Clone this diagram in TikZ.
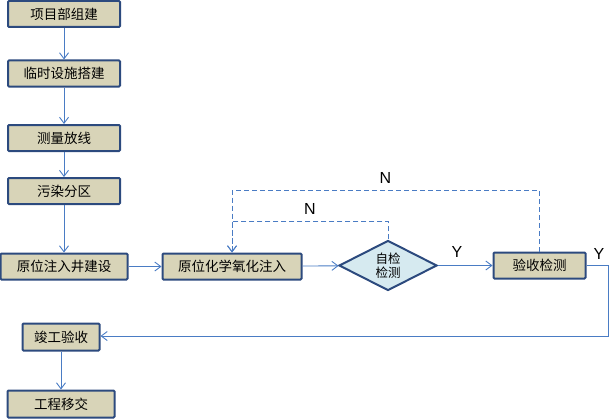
\documentclass[tikz,border=0pt]{standalone}
\usepackage{fontspec}
\setmainfont{Liberation Sans}
\newfontfamily\cjk{Noto Sans CJK SC}
\usepackage{xcolor}
\usetikzlibrary{shapes.geometric, arrows.meta, positioning}

\definecolor{boxfill}{HTML}{D8D4B8}
\definecolor{boxline}{HTML}{2C4A7E}
\definecolor{linkblue}{HTML}{4A7CC4}
\definecolor{checkfill}{HTML}{D6EAF0}

\begin{document}
\begin{tikzpicture}[
    x=1pt, y=-1pt,
    stepbox/.style={draw=boxline, line width=2pt, rectangle, rounded corners=1pt, fill=boxfill, minimum height=26pt, inner sep=0pt, font=\cjk\fontsize{13.5}{15}\selectfont},
    checkbox/.style={draw=boxline, line width=2pt, diamond, fill=checkfill, minimum width=98pt, minimum height=45pt, inner sep=0pt, align=center, font=\cjk\fontsize{12.5}{13.5}\selectfont},
    arrow/.style={-{Straight Barb[length=6pt, width=9pt]}, draw=linkblue, line width=0.9pt},
    back/.style={arrow, dash pattern=on 5pt off 3pt},
    yn/.style={font=\fontsize{16}{16}\selectfont}
]
\useasboundingbox (0,0) rectangle (610,420);

\node[stepbox, minimum width=112pt] (build) at (64,14) {项目部组建};
\node[stepbox, minimum width=112pt] (temp) at (64,73.5) {临时设施搭建};
\node[stepbox, minimum width=112pt] (survey) at (64,138) {测量放线};
\node[stepbox, minimum width=112pt] (zone) at (64,191) {污染分区};
\node[stepbox, minimum width=127pt] (well) at (64,266.5) {原位注入井建设};
\node[stepbox, minimum width=139pt] (inject) at (232,266.5) {原位化学氧化注入};
\node[checkbox] (check) at (388,265.5) {自检\\检测};
\node[stepbox, minimum width=92pt] (accept) at (539.5,265.5) {验收检测};
\node[stepbox, minimum width=77pt, minimum height=27pt] (final) at (61,337) {竣工验收};
\node[stepbox, minimum width=107pt, minimum height=27pt] (handover) at (61,404) {工程移交};

\coordinate (outerR) at (539,190);
\coordinate (outerL) at (232,190);
\coordinate (innerR) at (388,221);
\coordinate (innerL) at (232,221);
\coordinate (edge) at (608,265.5);
\coordinate (edgeB) at (608,336);

\draw[arrow] (build) -- (temp);
\draw[arrow] (temp) -- (survey);
\draw[arrow] (survey) -- (zone);
\draw[arrow] (zone) -- (well);
\draw[arrow] (well) -- (inject);
\draw[arrow] (inject) -- (check);
\draw[arrow] (check) -- node[yn, above=4pt, pos=0.35] {Y} (accept);
\draw[arrow] (accept.east) -- (edge) -- (edgeB) -- (final.east |- edgeB);
\node[yn] (yright) at (599,254) {Y};
\draw[arrow] (final) -- (handover);

% rework loops
\draw[back] (accept.north -| outerR) -- (outerR) -- node[yn, above=3pt, pos=0.5] {N} (outerL) -- (inject.north -| outerL);
\draw[back] (check.north) -- (innerR) -- node[yn, above=3pt, pos=0.5] {N} (innerL) -- (inject.north -| innerL);

\end{tikzpicture}
\end{document}
